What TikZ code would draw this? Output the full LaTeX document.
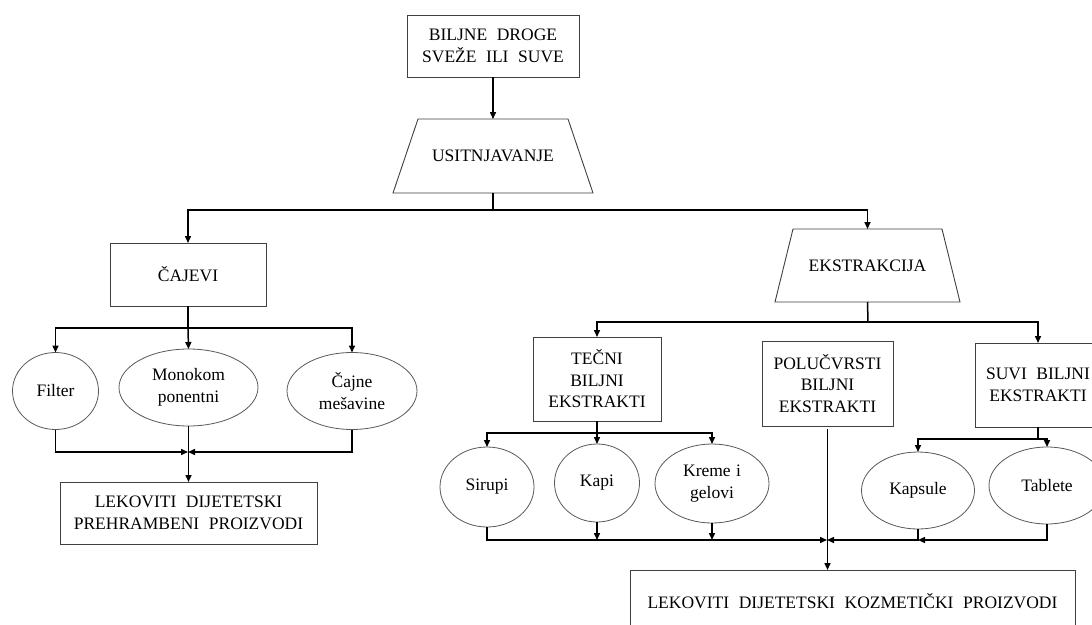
\documentclass[tikz,border=0pt]{standalone}
\usepackage{fontspec}
\setmainfont{Liberation Serif}[WordSpace=2.2]
\usetikzlibrary{shapes.geometric,arrows.meta,calc}
\begin{document}
\begin{tikzpicture}[x=1pt,y=-1pt,
  every node/.style={font=\fontsize{17.5}{21.5}\selectfont, text=black, align=center, inner sep=0pt, outer sep=0pt},
  box/.style={draw=black!75, line width=0.9pt, rectangle},
  trapnode/.style={rectangle},
  trapline/.style={draw=black!75, line width=0.9pt},
  oval/.style={draw=black!65, line width=0.8pt, ellipse},
  conn/.style={draw=black, line width=1.5pt},
  arr/.style={conn, -{Triangle[length=7pt,width=6pt]}}]
\useasboundingbox (0,0) rectangle (1092,624);
\clip (0,0) rectangle (1092,624);
\fill[white] (0,0) rectangle (1092,624);

% nodes
\node[box, minimum width=172pt, minimum height=62pt] (drog) at (493,46) {BILJNE DROGE\\SVEŽE ILI SUVE};
\node[trapnode, minimum width=200pt, minimum height=74pt] (usit) at (493,156) {USITNJAVANJE};
\draw[trapline] ($(usit.north west)+(25,0)$) -- ($(usit.north east)+(-25,0)$) -- (usit.south east) -- (usit.south west) -- cycle;
\node[box, minimum width=156pt, minimum height=63pt] (cajevi) at (188,274.5) {ČAJEVI};
\node[oval, minimum width=86pt, minimum height=77pt] (filter) at (55.5,391) {Filter};
\node[oval, minimum width=139pt, minimum height=77pt] (mono) at (188.5,387.5) {Monokom\\ponentni};
\node[oval, minimum width=130pt, minimum height=77pt] (cajne) at (352,391) {Čajne\\mešavine};
\node[box, minimum width=257pt, minimum height=62pt] (lek1) at (188.5,513) {LEKOVITI DIJETETSKI\\PREHRAMBENI PROIZVODI};

\node[trapnode, minimum width=185pt, minimum height=73pt] (ekstr) at (867.5,265.5) {EKSTRAKCIJA};
\draw[trapline] ($(ekstr.north west)+(18,0)$) -- ($(ekstr.north east)+(-18,0)$) -- (ekstr.south east) -- (ekstr.south west) -- cycle;
\node[box, minimum width=128pt, minimum height=84pt] (tecni) at (597,379) {TEČNI\\BILJNI\\EKSTRAKTI};
\node[box, minimum width=131pt, minimum height=85pt] (polu) at (827.5,383.5) {POLUČVRSTI\\BILJNI\\EKSTRAKTI};
\node[box, minimum width=126pt, minimum height=84pt] (suvi) at (1038,385) {SUVI BILJNI\\EKSTRAKTI};
\node[oval, minimum width=94pt, minimum height=80pt] (sirupi) at (487,487) {Sirupi};
\node[oval, minimum width=85pt, minimum height=78pt] (kapi) at (597,483) {Kapi};
\node[oval, minimum width=114pt, minimum height=79pt] (kreme) at (712,483.5) {Kreme\hspace{0.3em}i\\gelovi};
\node[oval, minimum width=113pt, minimum height=77pt] (kapsule) at (918,490.5) {Kapsule};
\node[oval, minimum width=116pt, minimum height=77pt] (tablete) at (1047,485.5) {Tablete};
\node[box, minimum width=445pt, minimum height=62pt] (lek2) at (852.5,601) {LEKOVITI DIJETETSKI KOZMETIČKI PROIZVODI};

% junctions
\coordinate (j1) at (493,210);
\coordinate (j2) at (188,328);
\coordinate (j3) at (188,452);
\coordinate (j4) at (868,322);
\coordinate (j5) at (597,433);
\coordinate (j6) at (827,540);
\coordinate (j7) at (1038,439);

% connectors
\draw[arr] (drog.south) -- (usit.north);
\draw[conn] (usit.south) -- (j1);
\draw[arr] (j1) -| (cajevi.north);
\draw[arr] (j1) -| (ekstr.north);

\draw[conn] (cajevi.south) -- (j2);
\draw[arr] (j2) -| (filter.north);
\draw[arr] (j2) -- (mono.north);
\draw[arr] (j2) -| (cajne.north);
\draw[arr] (filter.south) |- (j3);
\draw[arr] (cajne.south) |- (j3);
\draw[arr] (mono.south) -- (lek1.north);

\draw[conn] (ekstr.south) -- (j4);
\draw[arr] (j4) -| (tecni.north);
\draw[arr] (j4) -| (suvi.north);

\draw[conn] (tecni.south) -- (j5);
\draw[arr] (j5) -| (sirupi.north);
\draw[arr] (j5) -- (kapi.north);
\draw[arr] (j5) -| (kreme.north);
\draw[arr] (sirupi.south) |- (j6);
\draw[arr] (kapi.south) -- (kapi.south |- j6);
\draw[arr] (kreme.south) -- (kreme.south |- j6);
\draw[arr, shorten <=3pt] (polu.south) -- (polu.south |- lek2.north);

\draw[conn] (suvi.south) -- (j7);
\draw[arr] (j7) -| (kapsule.north);
\draw[arr] (j7) -| (tablete.north);
\draw[arr] (tablete.south) |- (kapsule.south |- j6);
\draw[arr] (kapsule.south) |- (j6);
\end{tikzpicture}
\end{document}
